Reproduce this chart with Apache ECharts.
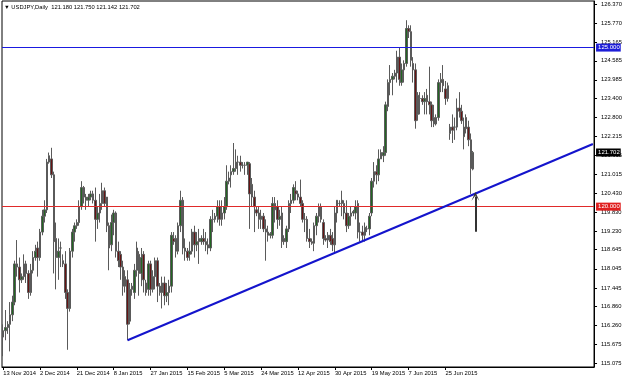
<!DOCTYPE html>
<html><head><meta charset="utf-8">
<script src="https://cdn.jsdelivr.net/npm/echarts@6/dist/echarts.min.js"></script>
<style>html,body{margin:0;padding:0;background:#fff}#c{width:625px;height:379px}</style>
</head><body><div id="c"></div>
<script>
// ---- data ----
const symbolName = 'USDJPY,Daily';
const firstBarDate = [2014, 10, 13]; // 13 Nov 2014 (bars Sun–Fri, Saturdays skipped)
const totalSlots = 257;              // visible bar slots incl. empty space on the right
const open  = [115.9,116.1,116.2,116.3,116.6,117.0,118.2,118.1,117.7,117.8,118.2,117.9,117.3,118.0,118.4,118.7,118.4,119.2,119.7,119.9,
121.4,121.5,121.0,119.0,118.4,118.7,118.3,118.2,117.3,116.8,118.6,119.2,119.4,119.5,120.0,120.6,120.3,120.2,120.3,120.4,
120.2,119.6,119.8,120.1,120.5,120.3,119.4,118.8,119.5,119.8,118.6,118.5,118.1,117.5,117.7,116.4,117.4,117.3,118.0,118.5,
117.9,118.5,117.6,117.4,118.2,117.4,117.8,118.3,117.5,117.3,117.6,117.2,117.3,117.5,119.0,119.0,118.6,119.4,120.2,118.7,
118.6,118.5,118.6,119.2,118.8,119.0,118.9,119.0,118.9,118.8,118.7,119.6,119.6,119.7,120.0,119.6,119.8,120.0,120.8,121.0,
121.1,121.2,121.4,121.4,121.3,121.3,121.3,121.35,120.3,120.3,119.9,119.8,119.6,119.7,119.3,119.2,119.1,119.1,120.1,120.0,
119.6,119.8,119.0,118.9,119.3,120.1,120.2,120.5,120.3,120.3,120.1,119.6,119.6,119.0,118.9,118.85,119.4,119.7,120.0,119.5,
119.0,118.95,119.1,119.0,118.8,119.8,120.1,120.2,120.1,119.8,119.4,119.7,119.8,119.8,120.1,119.2,119.2,119.1,119.3,119.3,
119.8,120.8,121.1,121.0,121.5,121.6,121.7,123.15,123.9,124.0,124.1,124.2,124.7,123.9,124.3,124.5,125.6,125.5,124.5,124.3,
122.9,123.4,123.4,123.3,123.5,123.3,123.2,122.8,122.6,122.8,123.9,124.0,123.7,123.4,122.3,122.5,122.5,122.5,123.1,123.0,
122.2,122.8,122.5,122.1,121.18];
const high  = [116.3,116.75,116.4,117.0,117.2,118.3,118.95,118.4,117.9,118.5,118.3,118.0,118.2,118.6,118.8,118.9,119.3,119.9,120.2,121.5,
121.7,121.85,121.1,119.5,119.0,118.9,118.5,118.6,117.4,118.7,119.3,119.5,119.6,120.2,120.8,120.65,120.4,120.4,120.5,120.5,
120.6,120.0,120.4,120.75,120.6,120.3,119.5,119.75,119.9,119.85,118.9,118.6,118.3,118.0,118.0,117.6,117.6,118.2,118.9,118.6,
118.7,118.6,117.7,118.3,118.3,118.0,118.4,118.4,117.6,117.8,117.8,117.6,117.7,119.2,119.2,119.1,119.5,120.5,120.3,119.0,
118.7,118.9,119.3,119.4,119.2,119.3,119.1,119.3,119.2,119.0,119.7,119.9,119.8,120.2,120.2,120.2,120.3,121.3,121.1,121.3,
122.0,121.8,121.6,121.6,121.4,121.4,121.4,121.4,120.9,120.5,120.0,120.0,119.9,119.8,119.6,119.4,119.2,120.3,120.3,120.2,
119.9,120.0,119.1,119.4,120.2,120.4,120.7,120.8,120.5,120.85,120.2,119.8,119.7,119.3,119.0,119.5,119.8,120.1,120.1,119.6,
119.1,119.2,119.3,119.2,120.0,120.2,120.2,120.5,120.2,120.2,119.8,120.0,119.9,120.2,120.2,119.5,119.4,119.5,119.4,119.8,
120.9,121.4,121.3,121.8,121.8,121.9,123.3,124.0,124.45,124.2,124.3,124.9,125.0,124.5,124.6,125.86,125.7,125.7,124.7,124.5,
123.6,123.6,123.5,123.6,123.7,124.4,123.3,123.2,122.9,124.0,124.2,124.45,123.95,123.9,122.6,122.9,122.8,123.4,123.6,123.2,
122.8,122.9,122.7,122.3,121.75];
const low   = [115.3,115.8,116.0,115.45,116.4,116.9,117.8,117.3,117.6,117.7,117.6,117.1,117.2,117.9,118.3,117.8,118.3,119.1,119.5,119.8,
121.35,120.9,117.9,117.4,117.7,118.1,118.1,117.1,115.5,116.7,118.4,118.9,119.3,119.4,119.9,120.1,119.9,120.0,120.2,120.1,
118.9,119.3,119.5,119.9,120.0,119.2,118.0,118.6,119.1,118.4,118.1,117.7,117.2,117.3,115.8,116.3,117.2,117.1,117.8,117.2,
117.5,117.3,117.2,117.2,117.2,117.3,117.4,117.0,117.2,116.8,116.9,117.0,116.9,117.3,118.8,118.4,118.5,119.2,118.5,118.3,
118.3,118.3,118.5,118.4,118.6,118.2,118.8,118.8,118.6,118.5,118.6,119.2,119.5,119.5,119.4,119.4,119.6,119.9,120.7,120.6,
121.0,121.1,121.0,121.1,121.2,121.0,121.0,119.3,120.0,119.2,119.7,119.3,119.3,119.2,118.3,118.9,119.0,119.0,119.5,119.3,
119.4,118.7,118.8,118.7,119.2,119.8,120.1,120.2,120.2,120.0,119.5,119.2,118.9,118.7,118.8,118.6,119.1,119.5,119.5,118.8,
118.9,118.7,118.8,118.6,118.55,119.5,120.0,119.7,119.6,119.2,119.3,119.4,119.7,119.6,119.0,118.9,118.9,118.9,119.2,119.1,
119.7,120.6,120.7,120.8,121.5,121.4,121.6,123.0,123.5,123.5,124.0,123.9,123.8,123.8,123.9,124.4,125.3,124.4,123.9,122.45,
122.7,122.9,123.2,122.9,122.9,122.9,122.5,122.5,122.55,122.7,123.6,123.6,123.2,123.3,122.1,122.0,122.1,122.4,122.8,122.6,
121.8,122.3,121.9,120.4,121.142];
const close = [116.1,116.2,116.3,116.6,117.0,118.2,118.1,117.7,117.8,118.2,117.9,117.3,118.0,118.4,118.6,118.4,119.2,119.7,119.9,121.4,
121.6,121.0,118.9,118.4,118.6,118.7,118.2,117.3,116.8,118.6,119.2,119.4,119.5,120.0,120.6,120.3,120.2,120.3,120.4,120.2,
119.6,119.8,120.1,120.5,120.1,119.4,118.7,119.5,119.8,118.6,118.3,118.1,117.5,117.8,116.3,117.4,117.5,118.0,118.7,117.9,
118.4,117.7,117.3,118.2,117.4,117.8,118.3,117.5,117.3,117.6,117.2,117.3,117.5,119.1,118.9,118.6,119.4,120.2,118.7,118.6,
118.4,118.6,119.2,118.8,118.9,118.9,119.0,118.9,118.8,118.7,119.6,119.6,119.7,120.0,119.6,119.8,120.0,120.8,120.9,121.1,
121.2,121.4,121.4,121.3,121.3,121.3,121.4,120.4,120.7,120.0,119.8,119.6,119.7,119.3,119.2,119.1,119.15,120.1,119.9,119.6,
119.7,118.9,118.9,119.3,120.1,120.2,120.6,120.4,120.4,120.1,119.6,119.6,119.0,118.9,118.85,119.4,119.7,120.0,119.6,119.0,
118.95,119.1,118.9,118.8,119.8,120.2,120.1,120.1,119.8,119.4,119.7,119.8,119.85,120.0,119.2,119.2,119.1,119.35,119.3,119.7,
120.8,121.1,121.0,121.5,121.7,121.7,123.2,123.9,124.0,124.1,124.2,124.7,124.0,124.3,124.5,125.6,125.5,124.6,124.3,122.7,
123.5,123.4,123.3,123.4,123.3,123.2,122.7,122.6,122.8,123.9,124.0,123.8,123.4,123.8,122.5,122.4,122.5,123.1,123.0,122.7,
122.5,122.45,122.1,121.2,121.702];
const yTickValues = [126.370,125.770,125.165,124.585,123.985,123.400,122.800,122.215,121.615,121.015,
                     120.430,119.830,119.230,118.645,118.045,117.445,116.860,116.260,115.675,115.075];
const resistanceLevel = 125.000;
const supportLevel = 120.000;
const trendStart = {index: 54, price: 115.80};
const trendEnd   = {index: 256, price: 121.97};
const arrowTail  = {index: 205, price: 119.21};
const arrowHead  = {index: 205, price: 120.32};

// ---- categories (trading calendar: Sunday–Friday bars) ----
const monthNames = ['Jan','Feb','Mar','Apr','May','Jun','Jul','Aug','Sep','Oct','Nov','Dec'];
const dates = [];
let t = Date.UTC(firstBarDate[0], firstBarDate[1], firstBarDate[2]);
while (dates.length < totalSlots) {
  const d = new Date(t);
  if (d.getUTCDay() !== 6) dates.push(d.getUTCDate() + ' ' + monthNames[d.getUTCMonth()] + ' ' + d.getUTCFullYear());
  t += 86400000;
}
const nBars = close.length;
const candles = open.map((o, i) => [o, close[i], low[i], high[i]]);
const last = nBars - 1;
const header = '\u25BC ' + symbolName + '  ' + [open[last], high[last], low[last], close[last]].map(v => v.toFixed(3)).join(' ');
const showX = (i) => i % 16 === 0 && i < nBars;

const font = 'Liberation Sans';
const tag = (bg) => ({show: true, position: 'end', distance: 2, backgroundColor: bg, color: '#fff',
  fontSize: 6, fontFamily: font, padding: [1, 1, 0, 2], lineHeight: 7});

const chart = echarts.init(document.getElementById('c'), null, {renderer: 'canvas'});
chart.setOption({
  animation: false,
  backgroundColor: '#fff',
  title: {text: header, left: 4, top: 4, padding: 0, textStyle: {fontSize: 5.8, fontWeight: 'normal', color: '#000', fontFamily: font}},
  grid: {left: 2, right: 30, top: 1, bottom: 12, show: true, borderColor: '#000', borderWidth: 1},
  xAxis: {
    type: 'category', data: dates, boundaryGap: true,
    axisLine: {lineStyle: {color: '#000', width: 1}},
    axisTick: {show: true, alignWithLabel: true, interval: (i) => showX(i), length: 3, lineStyle: {color: '#000'}},
    axisLabel: {interval: (i) => showX(i), align: 'left', fontSize: 5.8, color: '#000', margin: 3, fontFamily: font},
    splitLine: {show: false}
  },
  yAxis: {
    type: 'value', position: 'right', min: 114.959, max: 126.464, scale: true,
    axisLine: {show: true, lineStyle: {color: '#000'}},
    axisTick: {show: true, length: 3, customValues: yTickValues, lineStyle: {color: '#000'}},
    axisLabel: {customValues: yTickValues, formatter: (v) => v.toFixed(3), fontSize: 5.8, color: '#000', margin: 7, fontFamily: font},
    splitLine: {show: false}
  },
  series: [{
    type: 'candlestick', data: candles, barWidth: 2,
    itemStyle: {color: '#226622', color0: '#661414', borderColor: '#5a5a5a', borderColor0: '#5a5a5a', borderWidth: 1},
    markLine: {
      silent: true, symbol: ['none', 'none'], animation: false, precision: 3,
      data: [
        {yAxis: resistanceLevel, lineStyle: {color: '#1a1ae0', width: 1, type: 'solid', opacity: 1}, label: Object.assign(tag('#1e1ed8'), {formatter: resistanceLevel.toFixed(3)})},
        {yAxis: supportLevel, lineStyle: {color: '#e02a2a', width: 1, type: 'solid'}, label: Object.assign(tag('#e02020'), {formatter: supportLevel.toFixed(3)})},
        {yAxis: close[last], lineStyle: {color: 'rgba(0,0,0,0)', width: 1, type: 'solid'}, label: Object.assign(tag('#000'), {formatter: close[last].toFixed(3)})},
        [{coord: [dates[trendStart.index], trendStart.price], lineStyle: {color: '#1414cc', width: 2, type: 'solid'}, label: {show: false}},
         {coord: [dates[trendEnd.index], trendEnd.price]}],
        [{coord: [dates[arrowTail.index], arrowTail.price], symbol: 'none', lineStyle: {color: '#333', width: 2, type: 'solid'}, label: {show: false}},
         {coord: [dates[arrowHead.index], arrowHead.price], symbol: 'path://M0,10 L5,0 L10,10 L5,4 Z', symbolSize: [8, 9]}]
      ]
    }
  }]
});
</script>
</body></html>
